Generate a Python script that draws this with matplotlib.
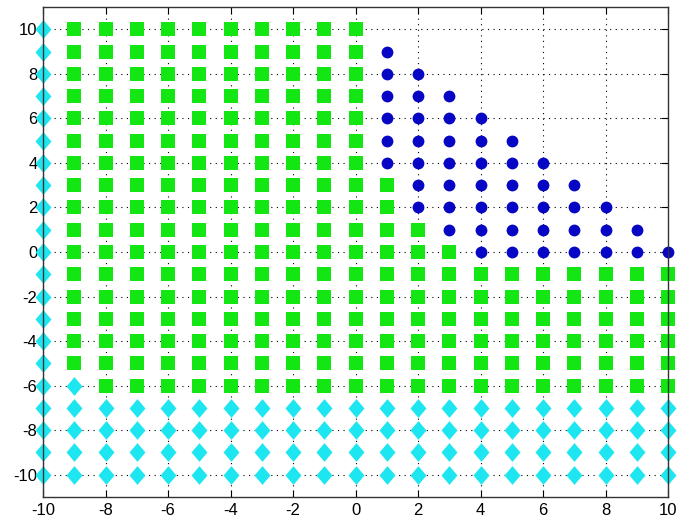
import numpy as np
import matplotlib
matplotlib.use("Agg")
import matplotlib.pyplot as plt

# grid points -10..10, class of each point
ticks = [-10, -8, -6, -4, -2, 0, 2, 4, 6, 8, 10]

# blue circles: for each x, the (low, high) y range
blue_x = [1, 2, 3, 4, 5, 6, 7, 8, 9, 10]
blue_ylo = [4, 2, 1, 0, 0, 0, 0, 0, 0, 0]
blue_yhi = [9, 8, 7, 6, 5, 4, 3, 2, 1, 0]

# green squares: for each x, the (low, high) y range
green_x = [-9, -8, -7, -6, -5, -4, -3, -2, -1, 0, 1, 2, 3, 4, 5, 6, 7, 8, 9, 10]
green_ylo = [-5, -6, -6, -6, -6, -6, -6, -6, -6, -6, -6, -6, -6, -6, -6, -6, -6, -6, -6, -6]
green_yhi = [10, 10, 10, 10, 10, 10, 10, 10, 10, 10, 3, 1, 0, -1, -1, -1, -1, -1, -1, -1]

# cyan diamonds: for each x, the (low, high) y range
cyan_x = [-10, -9, -8, -7, -6, -5, -4, -3, -2, -1, 0, 1, 2, 3, 4, 5, 6, 7, 8, 9, 10]
cyan_ylo = [-10] * 21
cyan_yhi = [10, -6, -7, -7, -7, -7, -7, -7, -7, -7, -7, -7, -7, -7, -7, -7, -7, -7, -7, -7, -7]


def expand(xs, ylo, yhi):
    px, py = [], []
    for x, lo, hi in zip(xs, ylo, yhi):
        for y in range(lo, hi + 1):
            px.append(x)
            py.append(y)
    return px, py


plt.rcParams['font.family'] = ['Liberation Sans', 'DejaVu Sans']
plt.rcParams['font.size'] = 12
plt.rcParams['axes.unicode_minus'] = False

fig = plt.figure(figsize=(6.77, 5.24), dpi=100)
ax = fig.add_axes([43 / 677, 27 / 524, 625 / 677, 490 / 524])

gx, gy = expand(green_x, green_ylo, green_yhi)
bx, by = expand(blue_x, blue_ylo, blue_yhi)
cx, cy = expand(cyan_x, cyan_ylo, cyan_yhi)

# matlab-ish diamond: a bit taller than wide
diamond = [(0, 1), (0.85, 0), (0, -1), (-0.85, 0), (0, 1)]

ax.plot(gx, gy, 's', color='#14e614', markersize=10.5, markeredgewidth=0, clip_on=False, zorder=3)
ax.plot(bx, by, 'o', color='#0606c4', markersize=8.5, markeredgewidth=0, clip_on=False, zorder=3)
ax.plot(cx, cy, marker=diamond, linestyle='none', color='#1ee6f0', markersize=13.5,
        markeredgewidth=0, clip_on=False, zorder=3)

ax.set_xlim(-10, 10)
ax.set_ylim(-11, 11)
ax.set_xticks(ticks)
ax.set_yticks(ticks)
ax.grid(True, color='black', linestyle=(0, (1, 4)), linewidth=0.8)
ax.set_axisbelow(True)
ax.tick_params(direction='in', top=True, right=True, length=5, width=0.8, pad=4)
for sp in ax.spines.values():
    sp.set_linewidth(1.0)
    sp.set_color('#333333')
    sp.set_zorder(4)

fig.savefig("out.png", dpi=100)
